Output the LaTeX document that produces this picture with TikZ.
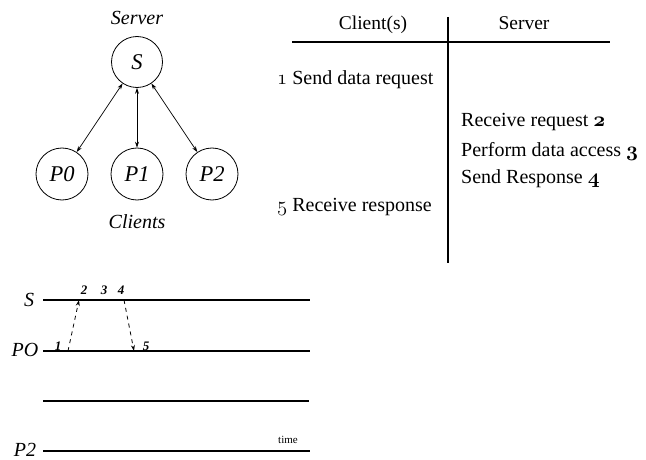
\documentclass[tikz,border=0pt]{standalone}
\usepackage{fontspec}
\setmainfont{Liberation Serif}
\usetikzlibrary{arrows.meta}
% old-style figures taken from the math italic font
\newcommand\osnum[1]{{\fontencoding{OML}\fontfamily{cmm}\fontseries{m}\fontshape{it}\selectfont #1}}
\newcommand\osnumb[1]{{\fontencoding{OML}\fontfamily{cmm}\fontseries{b}\fontshape{it}\selectfont #1}}
\begin{document}
\begin{tikzpicture}[x=1pt,y=-1pt,
  proc/.style={draw,circle,minimum size=52pt,inner sep=0pt,line width=0.8pt,
    font=\fontsize{22.5}{26}\selectfont\itshape},
  link/.style={{Stealth[length=6pt,width=4pt]}-{Stealth[length=6pt,width=4pt]},line width=0.7pt},
  caption/.style={font=\fontsize{20}{23}\selectfont\itshape},
  cell/.style={anchor=west,inner sep=0pt,font=\fontsize{20}{23}\selectfont},
  head/.style={anchor=base,inner sep=0pt,font=\fontsize{19.5}{23}\selectfont},
  rule/.style={line width=1.2pt},
  lane/.style={line width=1.5pt},
  lanelabel/.style={inner sep=0pt,font=\fontsize{20}{23}\selectfont\itshape},
  step num/.style={inner sep=0pt,font=\fontsize{13}{15}\selectfont\itshape\bfseries},
  msg/.style={dashed,dash pattern=on 4pt off 4pt,line width=0.8pt,-{Stealth[length=6pt,width=4pt]}}
]
\useasboundingbox (0,0) rectangle (646,460);

% --- client/server graph ---
\node[proc,minimum size=51pt] (S)  at (137,62)  {S};
\node[proc] (P0) at (62,174)  {P0};
\node[proc] (P1) at (137,174) {P1};
\node[proc] (P2) at (212,174) {P2};
\node[caption] (srvcap) at (137,18)  {Server};
\node[caption] (clicap) at (137,222) {Clients};
\draw[link] (S) -- (P0);
\draw[link] (S) -- (P1);
\draw[link] (S) -- (P2);

% --- table of steps ---
\coordinate (hl) at (292,42);
\coordinate (hr) at (610,42);
\coordinate (vt) at (448,17);
\coordinate (vb) at (448,263);
\draw[rule] (hl) -- (hr);
\draw[rule] (vt) -- (vb);
\node[head] (hcli) at (373,30) {Client(s)};
\node[head] (hsrv) at (524,30) {Server};
\node[cell] (r1) at (277,80)  {\osnum{1} Send data request};
\node[cell] (r2) at (461,122) {Receive request \osnumb{2}};
\node[cell] (r3) at (461,151) {Perform data access \osnumb{3}};
\node[cell] (r4) at (461,179) {Send Response \osnumb{4}};
\node[cell] (r5) at (277,207) {\osnum{5} Receive response};

% --- time lines ---
\coordinate (sA) at (43,300);  \coordinate (sB) at (310,300);
\coordinate (pA) at (43,351);  \coordinate (pB) at (310,351);
\coordinate (qA) at (43,401);  \coordinate (qB) at (309,401);
\coordinate (tA) at (43,451);  \coordinate (tB) at (310,451);
\draw[lane] (sA) -- (sB);
\draw[lane] (pA) -- (pB);
\draw[lane] (qA) -- (qB);
\draw[lane] (tA) -- (tB);
\node[lanelabel] (lS)  at (29,300) {S};
\node[lanelabel] (lP0) at (25,350) {PO};
\node[lanelabel] (lP2) at (25,450) {P2};
\node[inner sep=0pt,font=\fontsize{11}{13}\selectfont] (time) at (288,440) {time};

\node[step num] (n2) at (84,290)  {2};
\node[step num] (n3) at (104,290) {3};
\node[step num] (n4) at (121,290) {4};
\node[step num] (n1) at (58,346)  {1};
\node[step num] (n5) at (146,346) {5};

\coordinate (req0) at (68,351);
\coordinate (req1) at (79,300);
\coordinate (rsp0) at (124,300);
\coordinate (rsp1) at (134,351);
\draw[msg] (req0) -- (req1);
\draw[msg] (rsp0) -- (rsp1);
\end{tikzpicture}
\end{document}
